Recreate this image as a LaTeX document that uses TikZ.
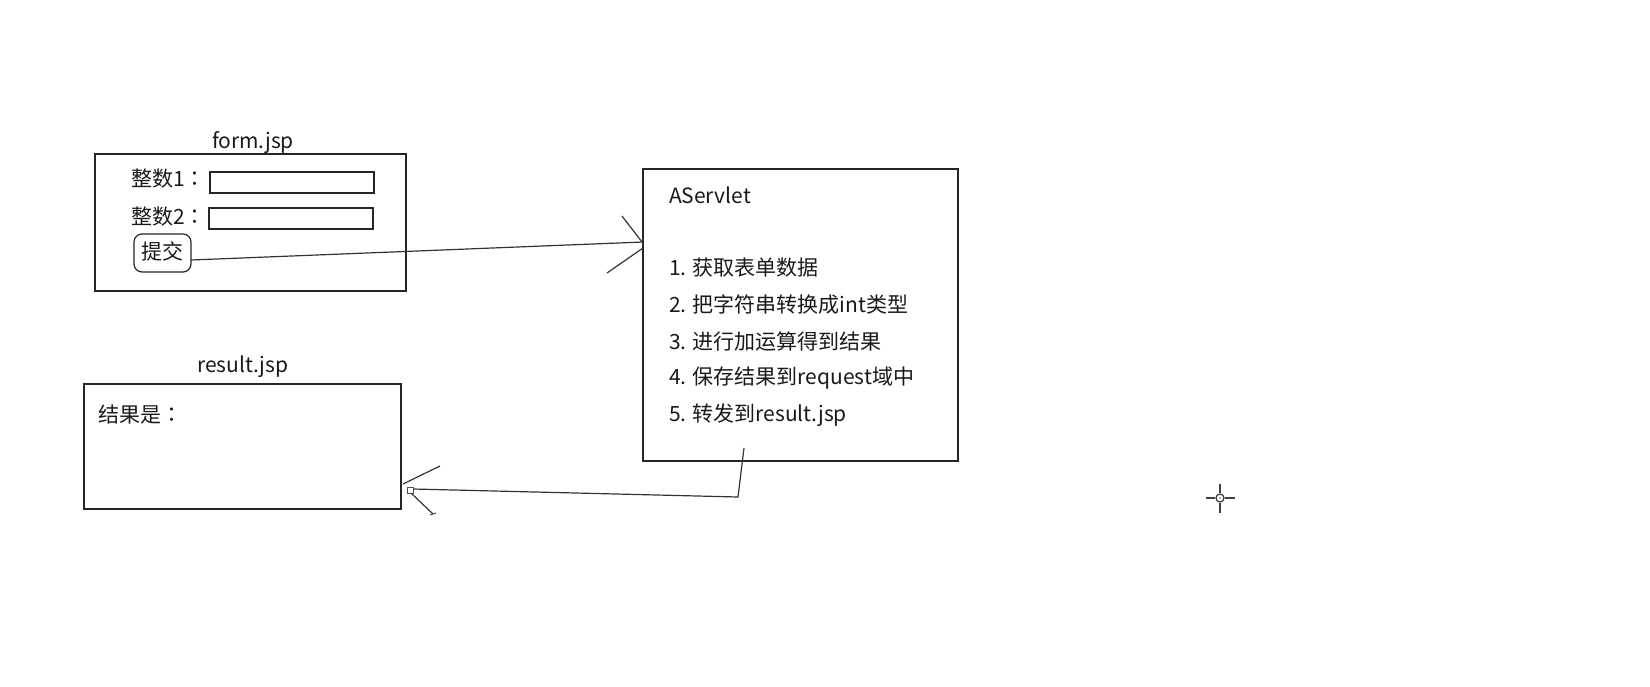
\documentclass[tikz,border=0pt]{standalone}
\usepackage{fontspec}
\setmainfont{Noto Sans CJK SC}
\newfontfamily\tcfont{Noto Sans CJK TC}
\newcommand{\fwcolon}{{\tcfont ：}}
\begin{document}
\begin{tikzpicture}[x=1pt,y=-1pt,
  ln/.style={draw=black!85, line width=1.4pt},
  box/.style={ln, rectangle, inner sep=0pt, outer sep=0pt, anchor=north west},
  txt/.style={inner sep=0pt, outer sep=0pt, text=black!90, font=\fontsize{21}{25}\selectfont},
  thin/.style={draw=black!80, line width=1.2pt}]
\useasboundingbox (0,0) rectangle (1650,686);

% form.jsp
\node[box, minimum width=311pt, minimum height=137pt] (form) at (95,154) {};
\node[txt] (formt) at (253,143) {form.jsp};
\node[txt, anchor=west] (l1) at (131,179) {整数1\fwcolon};
\node[txt, anchor=west] (l2) at (131,217) {整数2\fwcolon};
\node[box, minimum width=164pt, minimum height=21pt, line width=1.2pt] (f1) at (210,172) {};
\node[box, minimum width=164pt, minimum height=21pt, line width=1.2pt] (f2) at (209,208) {};
\node[box, minimum width=57pt, minimum height=38pt, rounded corners=8pt, line width=1.2pt] (submit) at (134,234) {};
\node[txt] (submitt) at (162,251) {提交};

% AServlet
\node[box, minimum width=315pt, minimum height=292pt] (servlet) at (643,169) {};
\node[txt, anchor=west] (st) at (669,195) {AServlet};
\node[txt, anchor=west] (s1) at (669,268) {1. 获取表单数据};
\node[txt, anchor=west] (s2) at (669,305) {2. 把字符串转换成int类型};
\node[txt, anchor=west] (s3) at (669,342) {3. 进行加运算得到结果};
\node[txt, anchor=west] (s4) at (669,378) {4. 保存结果到request域中};
\node[txt, anchor=west] (s5) at (669,415) {5. 转发到result.jsp};

% result.jsp
\node[box, minimum width=317pt, minimum height=125pt] (result) at (84,384) {};
\node[txt] (resultt) at (243,367) {result.jsp};
\node[txt, anchor=west] (r1) at (98,415) {结果是\fwcolon};

% connector form -> servlet
\coordinate (a0) at (191,260);
\coordinate (in1) at (643,242);
\draw[thin] (a0) -- (in1);
\draw[thin] (622,216) -- (642,242);
\draw[thin] (607,273) -- (643,248);

% connector servlet -> result
\coordinate (o1) at (744,448);
\coordinate (o2) at (738,497);
\coordinate (ret) at (413,489);
\draw[thin] (o1) -- (o2) -- (ret);
\draw[draw=black!70, line width=1pt] (407,487) rectangle (413,493);
\draw[thin] (440,466) -- (403,484);
\draw[thin] (411,493) -- (433,514);
\draw[draw=black!70, line width=1pt] (430,515) -- (436,513);

% cursor
\draw[draw=black!75, line width=1.3pt] (1220,498) circle (4);
\draw[draw=black!75, line width=1.6pt] (1206,498) -- (1215,498) (1225,498) -- (1235,498)
  (1220,484) -- (1220,493) (1220,503) -- (1220,513);
\fill[black!60] (1220,498) circle (0.8);
\end{tikzpicture}
\end{document}
